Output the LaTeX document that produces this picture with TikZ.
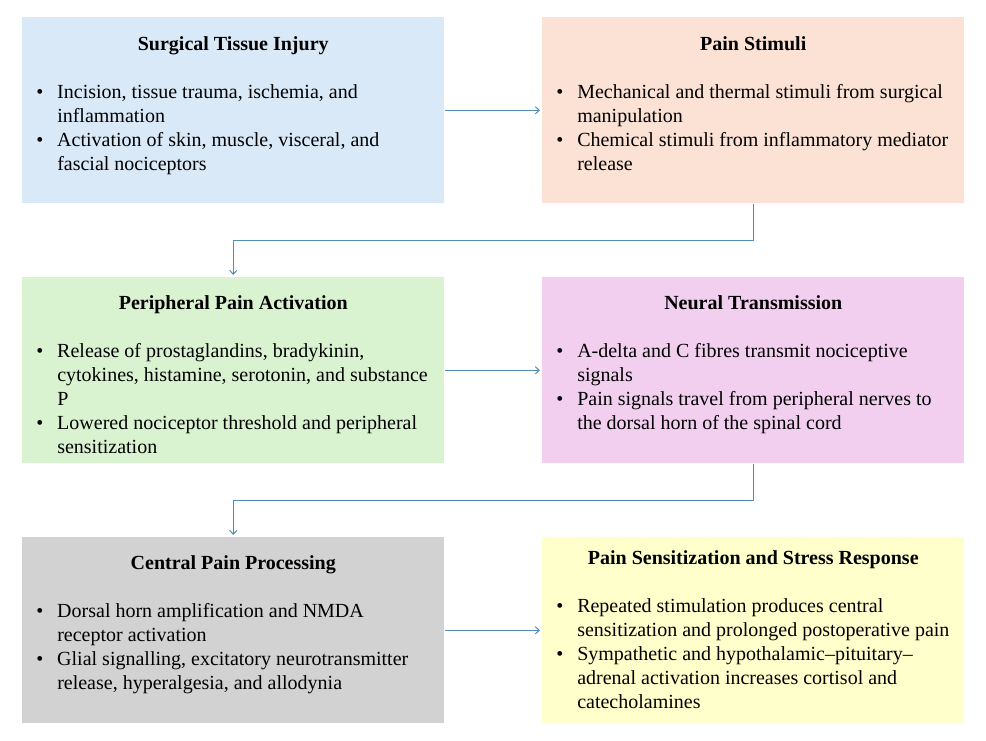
\documentclass[tikz,border=0pt]{standalone}
\usepackage{fontspec}
\setmainfont{Liberation Serif}
\usetikzlibrary{arrows.meta}

\definecolor{injuryblue}{HTML}{DAE9F8}
\definecolor{stimpeach}{HTML}{FBE2D5}
\definecolor{periphgreen}{HTML}{D9F2D0}
\definecolor{neuralpink}{HTML}{F2CEEF}
\definecolor{centralgray}{HTML}{D2D2D2}
\definecolor{stressyellow}{HTML}{FFFFCC}
\definecolor{linkblue}{HTML}{548DB4}

\newcommand{\bitem}[1]{\hangindent=15.75pt\hangafter=1\noindent\makebox[15.75pt][l]{\textbullet}#1\par}

\tikzset{
    stage/.style={rectangle, anchor=north west, inner sep=0pt, minimum width=316.5pt, minimum height=139.5pt},
    heading/.style={anchor=base, inner sep=0pt, font=\fontsize{15}{18}\selectfont\bfseries},
    points/.style={anchor=base west, inner sep=0pt, text width=300pt, align=flush left, font=\fontsize{15}{18}\selectfont},
    link/.style={draw=linkblue, line width=0.75pt, -{Straight Barb[length=3pt,width=5.5pt]}, shorten >=1.5pt}
}

\begin{document}
\begin{tikzpicture}[x=0.75pt, y=-0.75pt]
    \useasboundingbox (0,0) rectangle (986,740);

        % top row
        \node[stage, fill=injuryblue] (b1) at (22,17) {};
        \node[stage, fill=stimpeach] (b2) at (542,17) {};
        \node[heading, yshift=-24.75pt] (t1) at (b1.north) {Surgical Tissue Injury};
        \node[heading, yshift=-24.75pt] (t2) at (b2.north) {Pain Stimuli};
        \node[points] (p1) at ([shift={(14,81)}]b1.north west) {%
            \bitem{Incision, tissue trauma, ischemia, and\newline inflammation}%
            \bitem{Activation of skin, muscle, visceral, and\newline fascial nociceptors}};
        \node[points] (p2) at ([shift={(14,81)}]b2.north west) {%
            \bitem{Mechanical and thermal stimuli from surgical\newline manipulation}%
            \bitem{Chemical stimuli from inflammatory mediator\newline release}};

        % middle row
        \node[stage, fill=periphgreen] (b3) at (22,277) {};
        \node[stage, fill=neuralpink] (b4) at (542,277) {};
        \node[heading, yshift=-24.5pt] (t3) at (b3.north) {Peripheral Pain Activation};
        \node[heading, yshift=-24.5pt] (t4) at (b4.north) {Neural Transmission};
        \node[points] (p3) at ([shift={(14,80.5)}]b3.north west) {%
            \bitem{Release of prostaglandins, bradykinin,\newline cytokines, histamine, serotonin, and substance\newline P}%
            \bitem{Lowered nociceptor threshold and peripheral\newline sensitization}};
        \node[points] (p4) at ([shift={(14,80.5)}]b4.north west) {%
            \bitem{A-delta and C fibres transmit nociceptive\newline signals}%
            \bitem{Pain signals travel from peripheral nerves to\newline the dorsal horn of the spinal cord}};

        % bottom row
        \node[stage, fill=centralgray] (b5) at (22,537) {};
        \node[stage, fill=stressyellow] (b6) at (542,537) {};
        \node[heading, yshift=-24.5pt] (t5) at (b5.north) {Central Pain Processing};
        \node[heading, yshift=-20.5pt] (t6) at (b6.north) {Pain Sensitization and Stress Response};
        \node[points] (p5) at ([shift={(14,80)}]b5.north west) {%
            \bitem{Dorsal horn amplification and NMDA\newline receptor activation}%
            \bitem{Glial signalling, excitatory neurotransmitter\newline release, hyperalgesia, and allodynia}};
        \node[points] (p6) at ([shift={(14,75.5)}]b6.north west) {%
            \bitem{Repeated stimulation produces central\newline sensitization and prolonged postoperative pain}%
            \bitem{Sympathetic and hypothalamic\textendash pituitary\textendash\newline adrenal activation increases cortisol and\newline catecholamines}};

        \draw[link] (b1.east) -- (b2.west);
        \draw[link] (b2.south) -- ++(0,37) -| (b3.north);
        \draw[link] (b3.east) -- (b4.west);
        \draw[link] (b4.south) -- ++(0,37) -| (b5.north);
        \draw[link] (b5.east) -- (b6.west);

\end{tikzpicture}
\end{document}
